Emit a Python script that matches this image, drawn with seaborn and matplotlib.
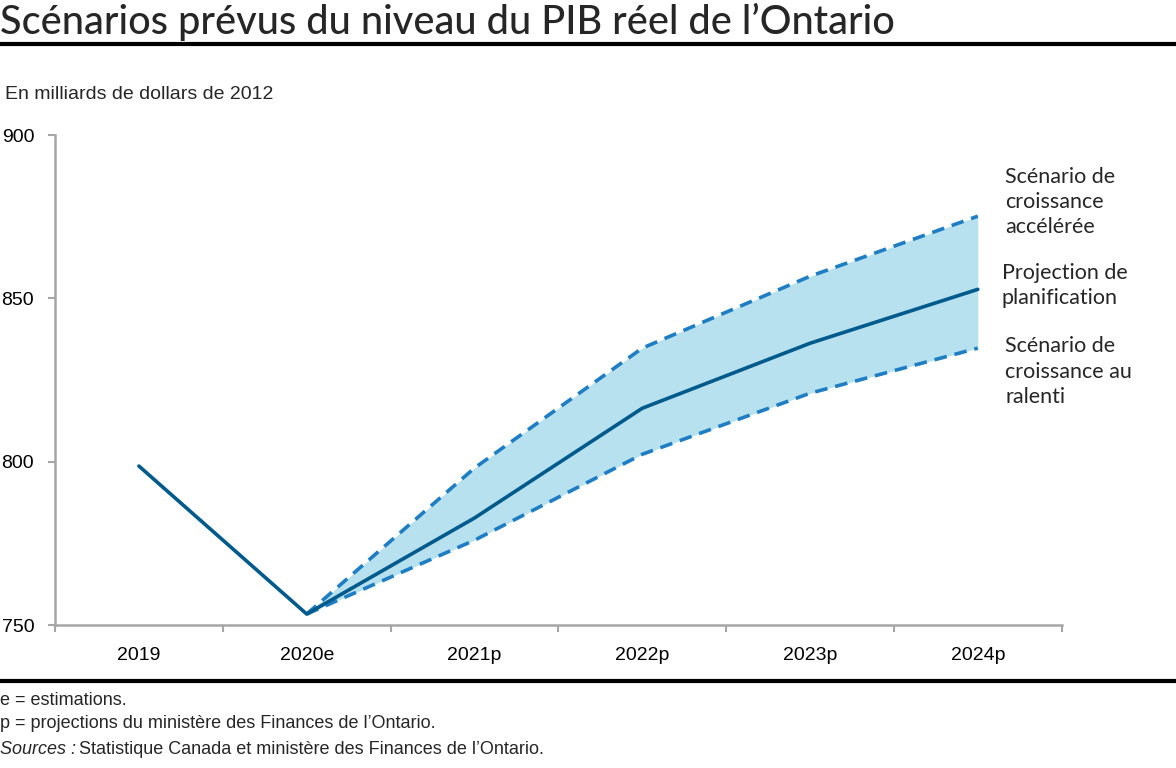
import matplotlib
matplotlib.use("Agg")
import matplotlib.pyplot as plt
from matplotlib.lines import Line2D
import seaborn as sns
import pandas as pd

# Data (billions of 2012 dollars)
years = ["2019", "2020e", "2021p", "2022p", "2023p", "2024p"]
planning = [798.7, 753.4, 782.8, 816.4, 836.3, 852.8]
fast_years = ["2020e", "2021p", "2022p", "2023p", "2024p"]
fast = [753.4, 798.1, 834.8, 856.8, 875.2]
slow = [753.4, 776.0, 802.3, 821.0, 834.8]

sns.set_theme(style="white")
plt.rcParams['font.family'] = ['Liberation Sans Narrow', 'Liberation Sans', 'DejaVu Sans']

pos = {y: i for i, y in enumerate(years)}
plan_df = pd.DataFrame({"x": [pos[y] for y in years], "val": planning})
scen_df = pd.DataFrame({"x": [pos[y] for y in fast_years], "fast": fast, "slow": slow})

fig = plt.figure(figsize=(11.76, 7.68), dpi=100)
ax = fig.add_axes([0.0468, 0.186, 0.856, 0.638])

ax.fill_between(scen_df["x"], scen_df["slow"], scen_df["fast"], color="#b7e1ee", lw=0, zorder=1)
sns.lineplot(data=scen_df, x="x", y="fast", ax=ax, color="#1f7ec3", lw=2.6,
             linestyle=(0, (3.5, 2.2)), zorder=2)
sns.lineplot(data=scen_df, x="x", y="slow", ax=ax, color="#1f7ec3", lw=2.6,
             linestyle=(0, (3.5, 2.2)), zorder=2)
sns.lineplot(data=plan_df, x="x", y="val", ax=ax, color="#005a8c", lw=2.6, zorder=3)

ax.set_xlim(-0.5, 5.5)
ax.set_ylim(750, 900)
ax.set_yticks([750, 800, 850, 900])
ax.set_xticks(range(len(years)))
ax.set_xticklabels(years)
ax.set_xticks([i - 0.5 for i in range(len(years) + 1)], minor=True)
ax.set_xlabel("")
ax.set_ylabel("")

grey = "#a6a6a6"
for s in ["top", "right"]:
    ax.spines[s].set_visible(False)
for s in ["left", "bottom"]:
    ax.spines[s].set_color(grey)
    ax.spines[s].set_linewidth(1.8)
ax.tick_params(axis="x", which="major", length=0, pad=16, labelsize=14, colors="black")
ax.tick_params(axis="x", which="minor", length=5, width=1.5, color=grey, direction="out", bottom=True)
ax.tick_params(axis="y", length=5, width=1.5, color=grey, direction="out", left=True,
               labelsize=14, pad=10, colors="black")
ax.tick_params(axis="y", color=grey)

# Title and rules
fig.text(0.0, 0.972, "Scénarios prévus du niveau du PIB réel de l’Ontario",
         fontsize=28.5, family=["Lato", "DejaVu Sans"], fontweight="medium", va="center")
fig.add_artist(Line2D([0, 1], [0.943, 0.943], color="black", lw=3))
fig.add_artist(Line2D([0, 1], [0.113, 0.113], color="black", lw=3))

fig.text(0.004, 0.877, "En milliards de dollars de 2012", fontsize=14, va="center")

lab_font = ["Lato", "DejaVu Sans"]
lab_kw = dict(fontsize=15.5, family=lab_font, va="top", linespacing=1.32)
fig.text(0.855, 0.783, "Scénario de\ncroissance\naccélérée", **lab_kw)
fig.text(0.852, 0.658, "Projection de\nplanification", **lab_kw)
fig.text(0.855, 0.562, "Scénario de\ncroissance au\nralenti", **lab_kw)

# Footnotes
fig.text(0.0, 0.088, "e = estimations.", fontsize=13, va="center")
fig.text(0.0, 0.058, "p = projections du ministère des Finances de l’Ontario.", fontsize=13, va="center")
fig.text(0.0, 0.024, "Sources :", fontsize=13, va="center", style="italic")
fig.text(0.067, 0.024, "Statistique Canada et ministère des Finances de l’Ontario.", fontsize=13, va="center")

fig.savefig("out.png", dpi=100)
